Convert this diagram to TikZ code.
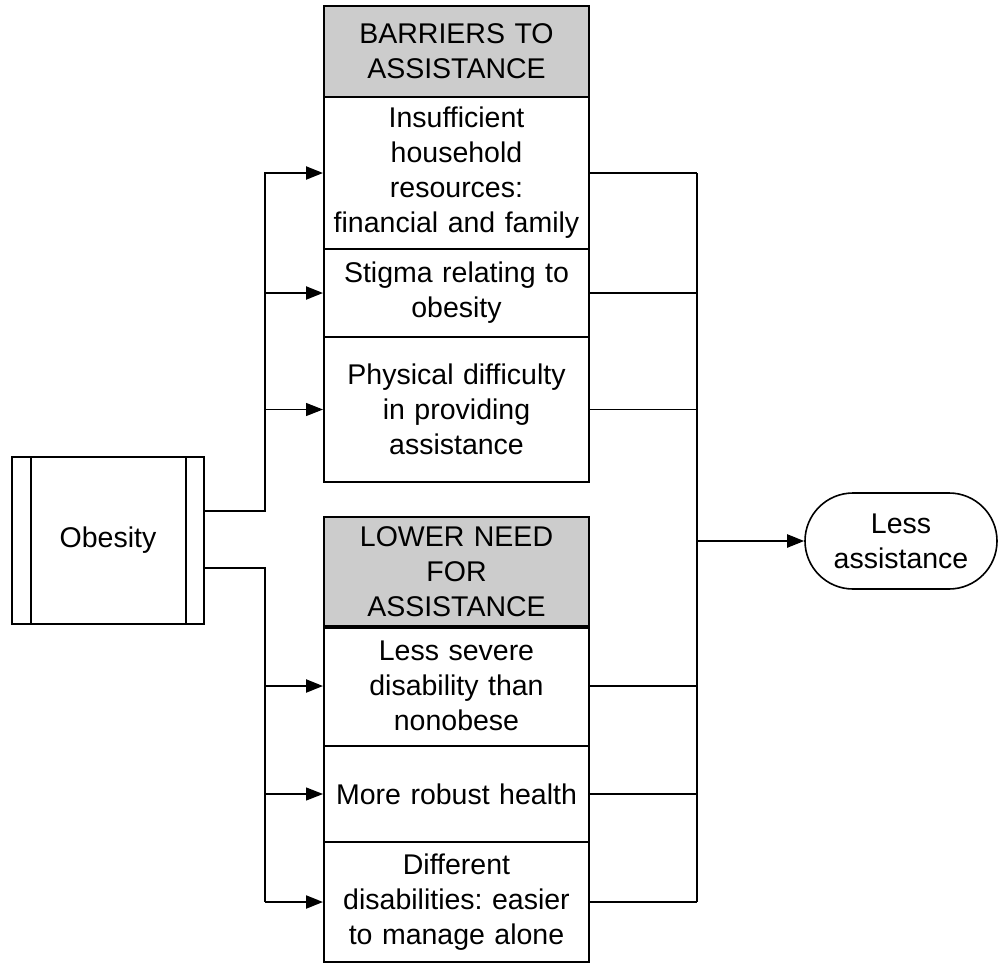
\documentclass[tikz,border=0pt]{standalone}
\usepackage{fontspec}
\setmainfont{Liberation Sans}
\usetikzlibrary{arrows.meta,shapes.misc}
\frenchspacing
\begin{document}
\begin{tikzpicture}[x=1pt,y=-1pt,
  font=\fontsize{28.5}{35}\selectfont,
  box/.style={draw=black, line width=2pt, fill=white, text width=262pt, inner xsep=1.5pt, inner ysep=0pt, align=center, minimum width=265pt},
  hdr/.style={box, fill=gray!40},
  thk/.style={line width=2.2pt},
  thn/.style={line width=1.2pt},
  arr/.style={-{Triangle[length=17pt,width=13pt]}}]
\useasboundingbox (0,0) rectangle (998,964);
% left process box
\node[draw=black, line width=2pt, minimum width=192pt, minimum height=167pt, inner sep=0pt] (obesity) at (108,540.5) {Obesity};
\draw[line width=2pt] ([xshift=20pt]obesity.north west) -- ([xshift=20pt]obesity.south west);
\draw[line width=2pt] ([xshift=-19pt]obesity.north east) -- ([xshift=-19pt]obesity.south east);
% top stack
\node[hdr, minimum height=91pt] (h1) at (456.5,51.5) {BARRIERS TO\\ASSISTANCE};
\node[box, minimum height=152pt] (ins) at (456.5,173) {Insufficient\\household\\resources:\\financial and family};
\node[box, minimum height=88pt] (stig) at (456.5,293) {Stigma relating to\\obesity};
\node[box, minimum height=145pt] (phys) at (456.5,409.5) {Physical difficulty\\in providing\\assistance};
% bottom stack
\node[box, minimum height=120pt] (less) at (456.5,686) {Less severe\\disability than\\nonobese};
\node[box, minimum height=96pt] (rob) at (456.5,794) {More robust health};
\node[box, minimum height=120pt] (diff) at (456.5,902) {Different\\disabilities: easier\\to manage alone};
\node[hdr, minimum height=109pt] (h2) at (456.5,571.5) {LOWER NEED\\FOR\\ASSISTANCE};
\draw[line width=3.2pt] (h2.south west) -- (h2.south east);
% outcome
\node[draw=black, line width=1.6pt, rounded rectangle, minimum width=192pt, minimum height=96pt, inner sep=0pt, align=center] (out) at (901,541) {Less\\assistance};
% bus coordinates
\coordinate (lbA) at (265,173);
\coordinate (lbB) at (265,902);
\coordinate (rb) at (697,541);
% left connectors
\draw[thk,arr] ([yshift=29.5pt]obesity.east) -| (lbA) -- (ins.west);
\draw[thk,arr] (stig.west -| lbA) -- (stig.west);
\draw[thn,arr] (phys.west -| lbA) -- (phys.west);
\draw[thn] ([yshift=-27.5pt]obesity.east) -| (lbB);
\draw[thk,arr] (lbB) -- (diff.west);
\draw[thk,arr] (less.west -| lbA) -- (less.west);
\draw[thn,arr] (rob.west -| lbA) -- (rob.west);
\draw[thk] (lbB) -- (less.west -| lbB);
% right connectors
\draw[thn] (ins.east) -- (ins.east -| rb);
\draw[thk] (stig.east) -- (stig.east -| rb);
\draw[thn] (phys.east) -- (phys.east -| rb);
\draw[thk] (less.east) -- (less.east -| rb);
\draw[thn] (rob.east) -- (rob.east -| rb);
\draw[thk] (diff.east) -- (diff.east -| rb);
\draw[thk] (ins.east -| rb) -- (diff.east -| rb);
\draw[thk,arr] (rb) -- (out.west);
\end{tikzpicture}
\end{document}
